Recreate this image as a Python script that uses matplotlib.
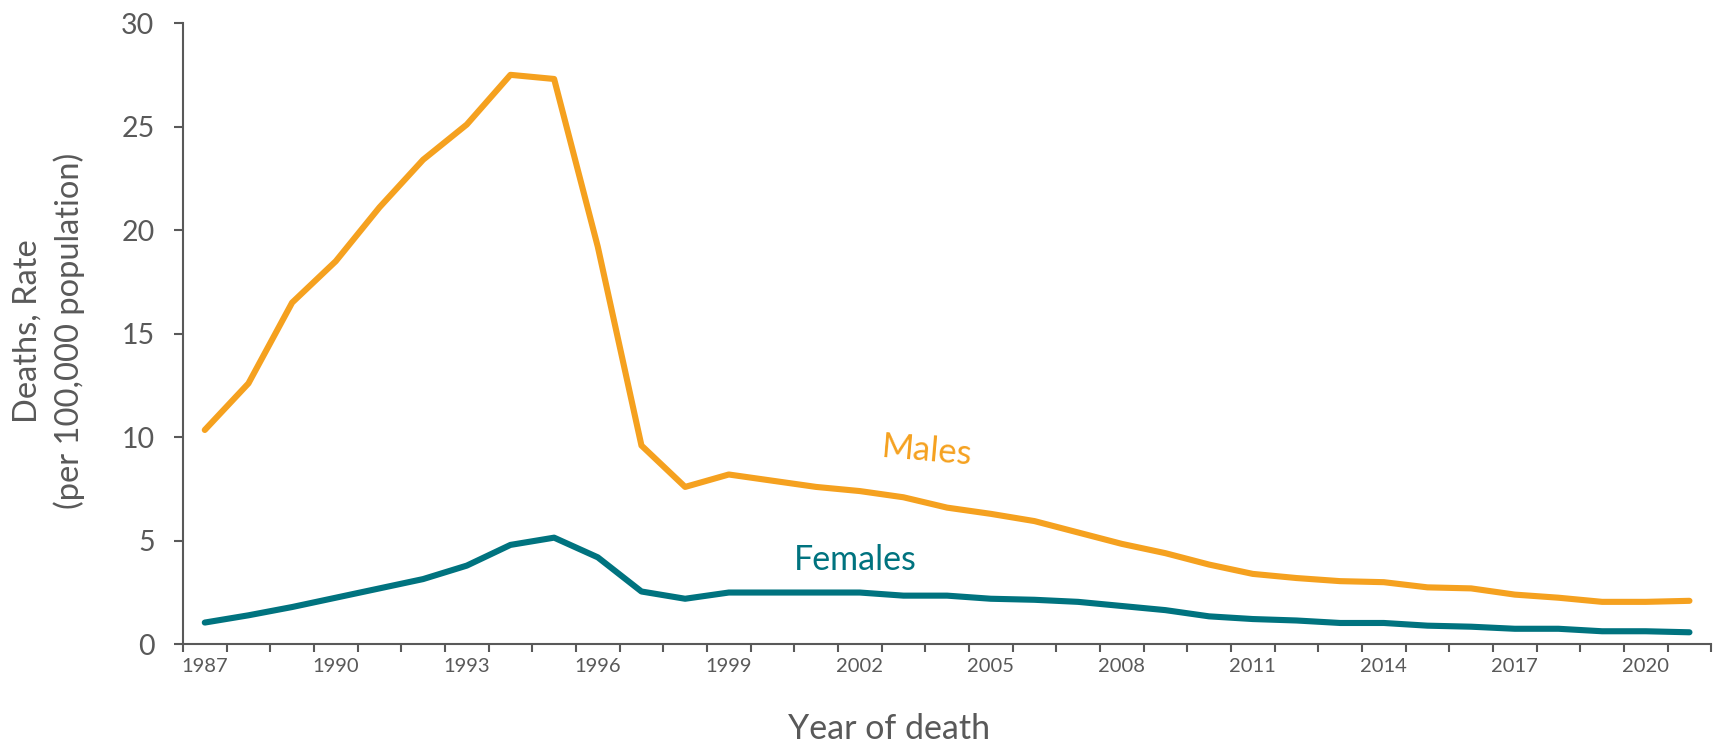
import matplotlib.pyplot as plt
import numpy as np

years = list(range(1987, 2022))
males = [10.35, 12.6, 16.5, 18.5, 21.1, 23.4, 25.1, 27.5, 27.3, 19.2,
         9.6, 7.6, 8.2, 7.9, 7.6, 7.4, 7.1, 6.6, 6.3, 5.95,
         5.4, 4.85, 4.4, 3.85, 3.4, 3.2, 3.05, 3.0, 2.75, 2.7,
         2.4, 2.25, 2.05, 2.05, 2.1]
females = [1.05, 1.4, 1.8, 2.25, 2.7, 3.15, 3.8, 4.8, 5.15, 4.2,
           2.55, 2.2, 2.5, 2.5, 2.5, 2.5, 2.35, 2.35, 2.2, 2.15,
           2.05, 1.85, 1.65, 1.35, 1.22, 1.15, 1.03, 1.03, 0.9, 0.85,
           0.75, 0.75, 0.63, 0.63, 0.58]
label_years = list(range(1987, 2021, 3))
y_ticks = [0, 5, 10, 15, 20, 25, 30]

orange = "#F5A11F"
teal = "#00737F"
grey = "#595959"

fig = plt.figure(figsize=(17.13, 7.44), dpi=100)
ax = fig.add_axes([0.1068, 0.134, 0.8922, 0.835])

ax.plot(years, males, color=orange, lw=4.4, solid_capstyle="round", solid_joinstyle="round")
ax.plot(years, females, color=teal, lw=4.4, solid_capstyle="round", solid_joinstyle="round")

ax.set_xlim(years[0] - 0.5, years[-1] + 0.5)
ax.set_ylim(0, 30)

# tick marks between categories, labels centred on the years
ax.set_xticks(np.arange(years[0] - 0.5, years[-1] + 1, 1.0))
ax.set_xticklabels([])
ax.set_xticks(label_years, minor=True)
ax.set_xticklabels([str(y) for y in label_years], minor=True,
                   fontfamily="Lato", fontsize=14.5, color=grey)
ax.tick_params(axis="x", which="major", direction="out", length=5.5, width=1.5, color=grey)
ax.tick_params(axis="x", which="minor", length=0, pad=10)

ax.set_yticks(y_ticks)
ax.set_yticklabels([str(v) for v in y_ticks], fontfamily="Lato", fontsize=20.5, color=grey)
ax.tick_params(axis="y", direction="out", length=6.5, width=1.5, color=grey, pad=14)

for s in ["top", "right"]:
    ax.spines[s].set_visible(False)
for s in ["left", "bottom"]:
    ax.spines[s].set_color(grey)
    ax.spines[s].set_linewidth(1.5)

ax.text(2003.55, 9.35, "Males", color=orange, fontfamily="Lato", fontsize=25,
        rotation=-5, ha="center", va="center")
ax.text(2001.9, 4.05, "Females", color=teal, fontfamily="Lato", fontsize=24.5,
        ha="center", va="center")

fig.text(0.519, 0.007, "Year of death", color=grey, fontfamily="Lato", fontsize=24.5,
         ha="center", va="baseline")
fig.text(0.0285, 0.555, "Deaths, Rate\n(per 100,000 population)", color=grey,
         fontfamily="Lato", fontsize=23.5, rotation=90, ha="center", va="center",
         multialignment="center", linespacing=1.4)

fig.savefig("out.png", dpi=100)
